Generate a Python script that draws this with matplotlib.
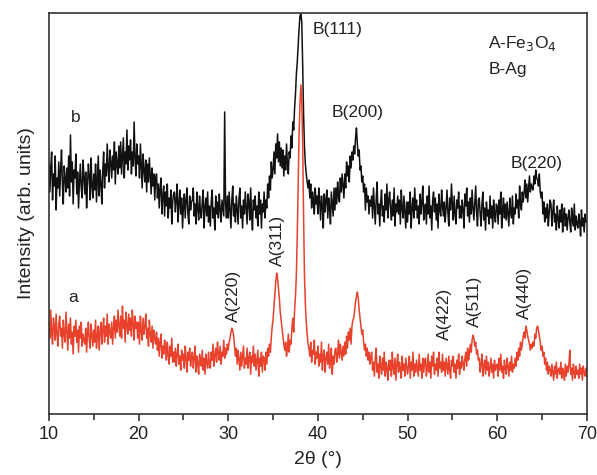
import numpy as np
import matplotlib.pyplot as plt

plt.rcParams['font.family'] = ['Liberation Sans', 'DejaVu Sans']

# 2theta grid, 0.1 degree step from 10 to 70
two_theta = np.round(np.arange(10.0, 70.001, 0.1), 1)

# sample a (red), arbitrary intensity units, one row per degree
intensity_a = [
    92, 76, 104, 82, 70, 96, 88, 74, 100, 80,
    68, 90, 98, 78, 86, 66, 94, 80, 72, 102,
    84, 64, 90, 76, 96, 70, 82, 60, 88, 78,
    94, 72, 84, 62, 88, 76, 92, 68, 80, 74,
    70, 86, 62, 80, 92, 74, 66, 90, 80, 68,
    84, 72, 94, 66, 78, 88, 64, 82, 92, 70,
    84, 96, 72, 88, 78, 100, 70, 90, 82, 76,
    92, 70, 86, 98, 76, 94, 82, 104, 88, 78,
    98, 76, 108, 86, 94, 72, 102, 88, 80, 100,
    84, 96, 78, 104, 90, 74, 98, 86, 92, 76,
    92, 70, 98, 84, 74, 96, 80, 88, 100, 76,
    86, 68, 94, 80, 72, 88, 66, 84, 76, 70,
    82, 64, 76, 58, 72, 80, 56, 68, 60, 74,
    66, 54, 72, 60, 50, 68, 58, 76, 52, 62,
    52, 66, 48, 60, 70, 50, 58, 44, 64, 54,
    60, 46, 68, 56, 42, 62, 54, 66, 48, 58,
    62, 46, 56, 68, 42, 58, 50, 40, 60, 52,
    48, 64, 44, 56, 40, 60, 52, 46, 62, 50,
    46, 62, 54, 70, 48, 58, 66, 52, 72, 60,
    54, 68, 50, 62, 58, 74, 56, 66, 60, 70,
    64, 72, 76, 82, 86, 84, 78, 68, 58, 66,
    50, 64, 54, 44, 62, 48, 58, 68, 46, 56,
    50, 66, 46, 56, 62, 40, 58, 52, 68, 48,
    60, 44, 54, 64, 38, 56, 48, 62, 42, 58,
    56, 44, 62, 50, 66, 58, 70, 62, 76, 88,
    94, 108, 120, 132, 141, 136, 126, 116, 102, 94,
    86, 78, 70, 64, 72, 58, 66, 80, 62, 74,
    70, 86, 96, 82, 104, 118, 140, 180, 230, 280,
    310, 329, 312, 270, 200, 140, 110, 92, 80, 70,
    66, 58, 72, 52, 64, 60, 74, 50, 62, 56,
    68, 48, 60, 52, 72, 44, 58, 64, 42, 56,
    62, 50, 70, 46, 54, 66, 40, 58, 50, 64,
    66, 52, 60, 74, 56, 70, 62, 54, 68, 58,
    72, 60, 78, 66, 82, 74, 86, 70, 88, 94,
    96, 104, 112, 118, 122, 116, 104, 96, 88, 80,
    84, 72, 64, 70, 58, 66, 54, 62, 50, 58,
    62, 44, 52, 38, 56, 66, 42, 50, 36, 58,
    48, 40, 56, 44, 62, 38, 52, 46, 34, 54,
    44, 54, 38, 62, 46, 40, 56, 34, 50, 60,
    42, 52, 46, 36, 58, 44, 50, 38, 56, 48,
    40, 48, 58, 36, 52, 44, 62, 38, 50, 42,
    54, 46, 38, 60, 44, 50, 36, 56, 42, 52,
    56, 38, 46, 60, 42, 52, 36, 58, 48, 62,
    40, 50, 44, 56, 38, 62, 46, 52, 42, 60,
    44, 52, 38, 56, 48, 40, 58, 44, 36, 54,
    48, 58, 42, 50, 36, 54, 46, 60, 40, 52,
    46, 58, 50, 44, 56, 62, 48, 66, 54, 60,
    70, 62, 74, 79, 76, 68, 72, 60, 64, 54,
    56, 42, 50, 60, 38, 48, 54, 40, 58, 44,
    52, 38, 46, 56, 42, 50, 36, 54, 44, 48,
    50, 38, 56, 44, 60, 42, 48, 36, 54, 46,
    40, 56, 48, 38, 52, 44, 58, 42, 50, 46,
    56, 48, 62, 54, 66, 58, 72, 64, 70, 78,
    82, 76, 88, 84, 78, 74, 70, 64, 70, 66,
    72, 68, 80, 76, 86, 88, 84, 78, 72, 64,
    68, 58, 62, 50, 56, 44, 52, 40, 48, 44,
    38, 50, 42, 34, 48, 40, 52, 36, 44, 46,
    40, 52, 36, 46, 42, 34, 50, 38, 48, 42,
    50, 64, 40, 46, 34, 50, 42, 36, 48, 40,
    44, 36, 50, 40, 46, 34, 48, 42, 38, 46,
    38,
]

# sample b (black), same units
intensity_b = [
    250, 222, 246, 262, 214, 240, 228, 258, 204, 236,
    226, 252, 218, 244, 264, 230, 210, 248, 236, 222,
    246, 226, 258, 218, 279, 232, 252, 210, 244, 236,
    260, 220, 242, 206, 232, 250, 226, 216, 254, 238,
    220, 242, 206, 230, 250, 238, 214, 256, 228, 216,
    240, 224, 250, 212, 236, 258, 218, 244, 230, 210,
    244, 262, 226, 250, 238, 270, 246, 232, 264, 252,
    236, 258, 244, 272, 230, 262, 250, 240, 268, 246,
    272, 240, 258, 276, 236, 262, 250, 284, 244, 268,
    254, 274, 240, 262, 248, 292, 256, 238, 270, 250,
    258, 236, 270, 248, 226, 260, 244, 232, 254, 222,
    250, 232, 256, 238, 220, 246, 228, 240, 214, 236,
    240, 216, 230, 206, 226, 236, 200, 218, 228, 198,
    222, 208, 230, 196, 216, 206, 224, 190, 212, 220,
    222, 202, 214, 230, 192, 210, 224, 200, 216, 186,
    208, 220, 196, 214, 226, 200, 190, 218, 204, 212,
    214, 226, 198, 210, 190, 222, 206, 194, 218, 202,
    196, 212, 224, 186, 206, 216, 198, 222, 192, 208,
    188, 212, 224, 196, 206, 184, 218, 200, 212, 196,
    220, 204, 192, 214, 206, 198, 302, 210, 196, 218,
    196, 222, 204, 186, 214, 228, 198, 210, 192, 218,
    204, 190, 216, 226, 196, 208, 186, 214, 200, 222,
    206, 190, 220, 212, 194, 226, 200, 184, 214, 204,
    218, 196, 208, 188, 222, 200, 214, 186, 210, 202,
    222, 196, 214, 206, 230, 216, 238, 224, 252, 236,
    244, 262, 240, 270, 256, 280, 252, 272, 248, 266,
    246, 264, 238, 258, 244, 270, 250, 240, 262, 256,
    278, 266, 292, 284, 306, 320, 340, 352, 368, 385,
    398, 400, 392, 350, 300, 268, 250, 240, 232, 226,
    234, 216, 230, 206, 222, 214, 200, 226, 210, 218,
    200, 226, 212, 194, 218, 208, 186, 220, 202, 214,
    224, 196, 216, 206, 190, 222, 210, 198, 226, 204,
    226, 210, 232, 218, 212, 236, 222, 240, 228, 216,
    240, 226, 252, 238, 248, 232, 258, 246, 262, 254,
    268, 260, 276, 286, 270, 258, 264, 244, 248, 232,
    238, 222, 230, 204, 226, 212, 218, 200, 214, 208,
    218, 196, 226, 208, 190, 214, 232, 200, 210, 188,
    212, 224, 198, 208, 192, 220, 204, 230, 196, 214,
    222, 206, 194, 214, 198, 226, 188, 210, 202, 218,
    200, 214, 190, 224, 206, 196, 218, 202, 186, 212,
    192, 212, 200, 222, 186, 206, 216, 196, 226, 204,
    214, 196, 208, 190, 220, 200, 212, 228, 194, 206,
    210, 190, 218, 200, 228, 196, 208, 184, 214, 222,
    202, 216, 194, 210, 186, 220, 204, 198, 224, 208,
    198, 212, 192, 206, 224, 202, 188, 216, 204, 230,
    210, 194, 218, 200, 190, 214, 206, 222, 196, 208,
    196, 214, 204, 186, 220, 208, 226, 198, 212, 192,
    216, 200, 224, 206, 194, 212, 228, 202, 188, 214,
    216, 200, 188, 210, 222, 194, 206, 184, 212, 198,
    204, 190, 218, 196, 208, 186, 214, 200, 192, 210,
    208, 190, 214, 200, 222, 186, 204, 216, 196, 210,
    194, 212, 200, 188, 216, 202, 196, 218, 190, 206,
    200, 220, 206, 214, 196, 228, 210, 204, 222, 212,
    222, 234, 216, 230, 212, 226, 238, 222, 230, 226,
    224, 238, 230, 244, 236, 234, 228, 240, 222, 216,
    222, 200, 212, 192, 206, 196, 210, 188, 202, 214,
    210, 188, 202, 214, 192, 200, 184, 208, 196, 186,
    204, 192, 210, 182, 198, 206, 188, 200, 184, 196,
    204, 192, 182, 206, 196, 188, 210, 184, 198, 190,
    186, 200, 192, 178, 204, 188, 196, 182, 200, 192,
    194,
]

# peak labels: (text, x, y, rotation)
peak_labels = [
    ("B(111)", 39.4, 384, 0),
    ("B(200)", 41.5, 301, 0),
    ("B(220)", 61.5, 250, 0),
    ("A(220)", 30.6, 118, 90),
    ("A(311)", 35.5, 174, 90),
    ("A(422)", 54.1, 100, 90),
    ("A(511)", 57.5, 113, 90),
    ("A(440)", 63.0, 121, 90),
]

fig = plt.figure(figsize=(5.97, 4.75), dpi=100)
ax = fig.add_axes([0.082, 0.128, 0.901, 0.845])

ax.plot(two_theta, intensity_b, color='#111111', lw=1.1)
ax.plot(two_theta, intensity_a, color='#e8412c', lw=1.1)

txt_kw = dict(fontsize=12.5, color='#222222')
for txt, x, y, rot in peak_labels:
    if rot == 0:
        ax.text(x, y, txt, ha='left', va='center', **txt_kw)
    else:
        ax.text(x, y, txt, ha='center', va='center', rotation=90, **txt_kw)

ax.text(12.4, 296, 'b', ha='left', va='center', **txt_kw)
ax.text(12.1, 117, 'a', ha='left', va='center', **txt_kw)
ax.text(59.0, 370, r'A-Fe$_3$O$_4$', ha='left', va='center', **txt_kw)
ax.text(59.0, 344, 'B-Ag', ha='left', va='center', **txt_kw)

ax.set_xlim(10, 70)
ax.set_ylim(0, 401)
ax.set_xticks(range(10, 71, 10))
ax.set_xticks(range(15, 70, 10), minor=True)
ax.set_yticks([])
ax.tick_params(axis='x', which='both', direction='out', labelsize=13, width=1.1, colors='#222222')
ax.tick_params(axis='x', which='major', length=5)
ax.tick_params(axis='x', which='minor', length=4)
for s in ax.spines.values():
    s.set_linewidth(1.2)
    s.set_color('#333333')

ax.set_xlabel('2θ (°)', fontsize=14, labelpad=6, color='#222222')
ax.set_ylabel('Intensity (arb. units)', fontsize=14, labelpad=10, color='#222222')

fig.savefig('out.png', dpi=100)
